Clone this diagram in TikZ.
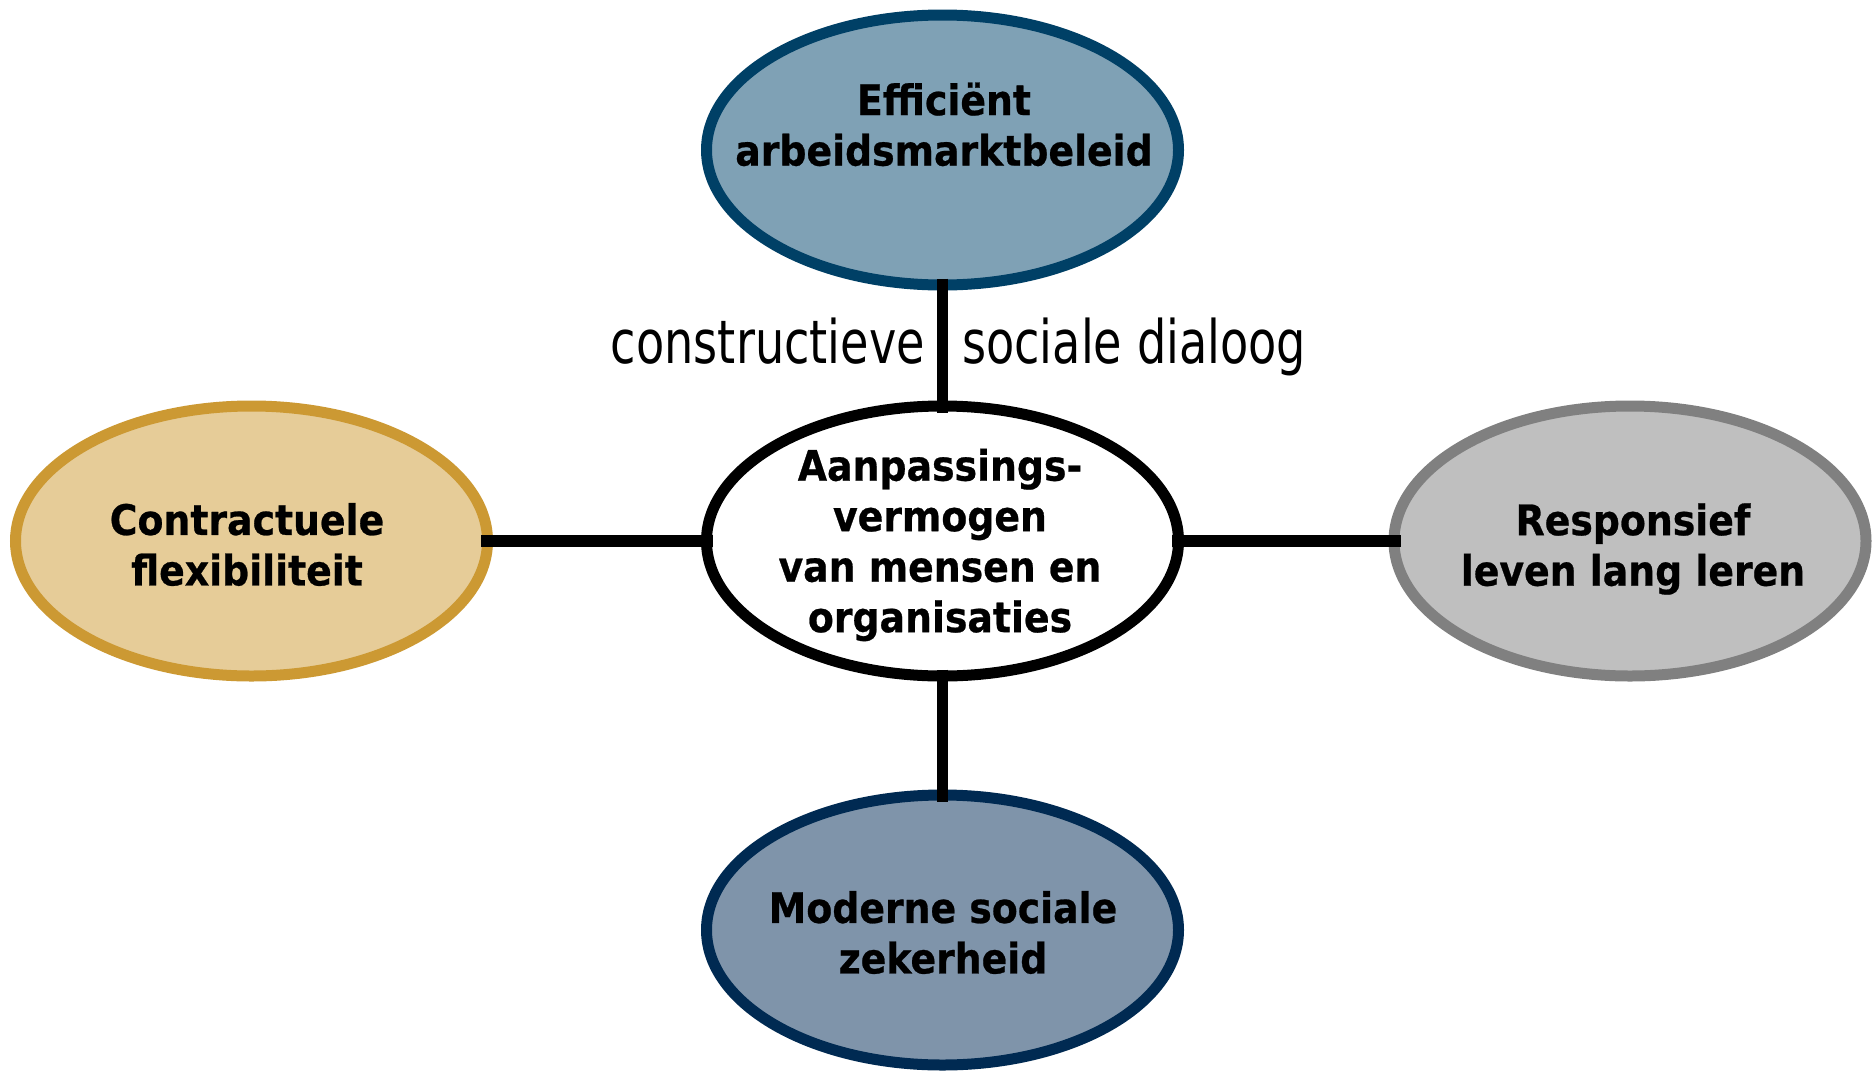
\documentclass[tikz,border=0pt]{standalone}
\usepackage{fontspec}
\usetikzlibrary{shapes.geometric}
\newfontfamily\lblbold{DejaVu Sans}[FakeStretch=0.9, FakeBold=0.6]
\newfontfamily\lblreg{DejaVu Sans}[FakeStretch=0.77]
\definecolor{topfill}{RGB}{127,161,181}
\definecolor{topborder}{RGB}{0,64,102}
\definecolor{botfill}{RGB}{127,148,170}
\definecolor{botborder}{RGB}{0,42,82}
\definecolor{leftfill}{RGB}{230,204,152}
\definecolor{leftborder}{RGB}{204,153,51}
\definecolor{rightfill}{RGB}{191,191,191}
\definecolor{rightborder}{RGB}{128,128,128}
\begin{document}
\begin{tikzpicture}[x=1pt,y=-1pt,
  oval/.style={ellipse, draw, line width=11pt, minimum width=472pt, minimum height=270pt, inner sep=0pt},
  title/.style={align=center, inner sep=0pt, text=black, font=\lblbold\bfseries\fontsize{42}{50.5}\selectfont},
  link/.style={draw=black, line width=11.5pt, shorten <=-12pt, shorten >=-12pt},
  note/.style={inner sep=0pt, text=black, font=\lblreg\fontsize{60}{70}\selectfont}]
\useasboundingbox[fill=white] (0,0) rectangle (1872,1071);
% ellipses
\node[oval, draw=topborder, fill=topfill] (top) at (942.5,150) {};
\node[oval, draw=black, fill=white] (mid) at (942.5,541) {};
\node[oval, draw=leftborder, fill=leftfill] (left) at (251.5,541) {};
\node[oval, draw=rightborder, fill=rightfill] (right) at (1630,541) {};
\node[oval, draw=botborder, fill=botfill] (bot) at (942.5,930) {};
% connectors
\draw[link] (top.south) -- (mid.north);
\draw[link] (left.east) -- (mid.west);
\draw[link] (mid.east) -- (right.west);
\draw[link] (mid.south) -- (bot.north);
% texts
\node[title] (ttop) at (944,124.4) {Efficiënt\\arbeidsmarktbeleid};
\node[title] (tmid) at (940,545) {Aanpassings-\\vermogen\\van mensen en\\organisaties};
\node[title] (tleft) at (247,544.5) {Contractuele\\flexibiliteit};
\node[title] (tright) at (1633,549) {Responsief\\leven lang leren};
\node[title] (tbot) at (943,932.5) {Moderne sociale\\zekerheid};
\node[note, anchor=base east] (c1) at (925,363) {constructieve};
\node[note, anchor=base west] (c2) at (962,363) {sociale dialoog};
\end{tikzpicture}
\end{document}
